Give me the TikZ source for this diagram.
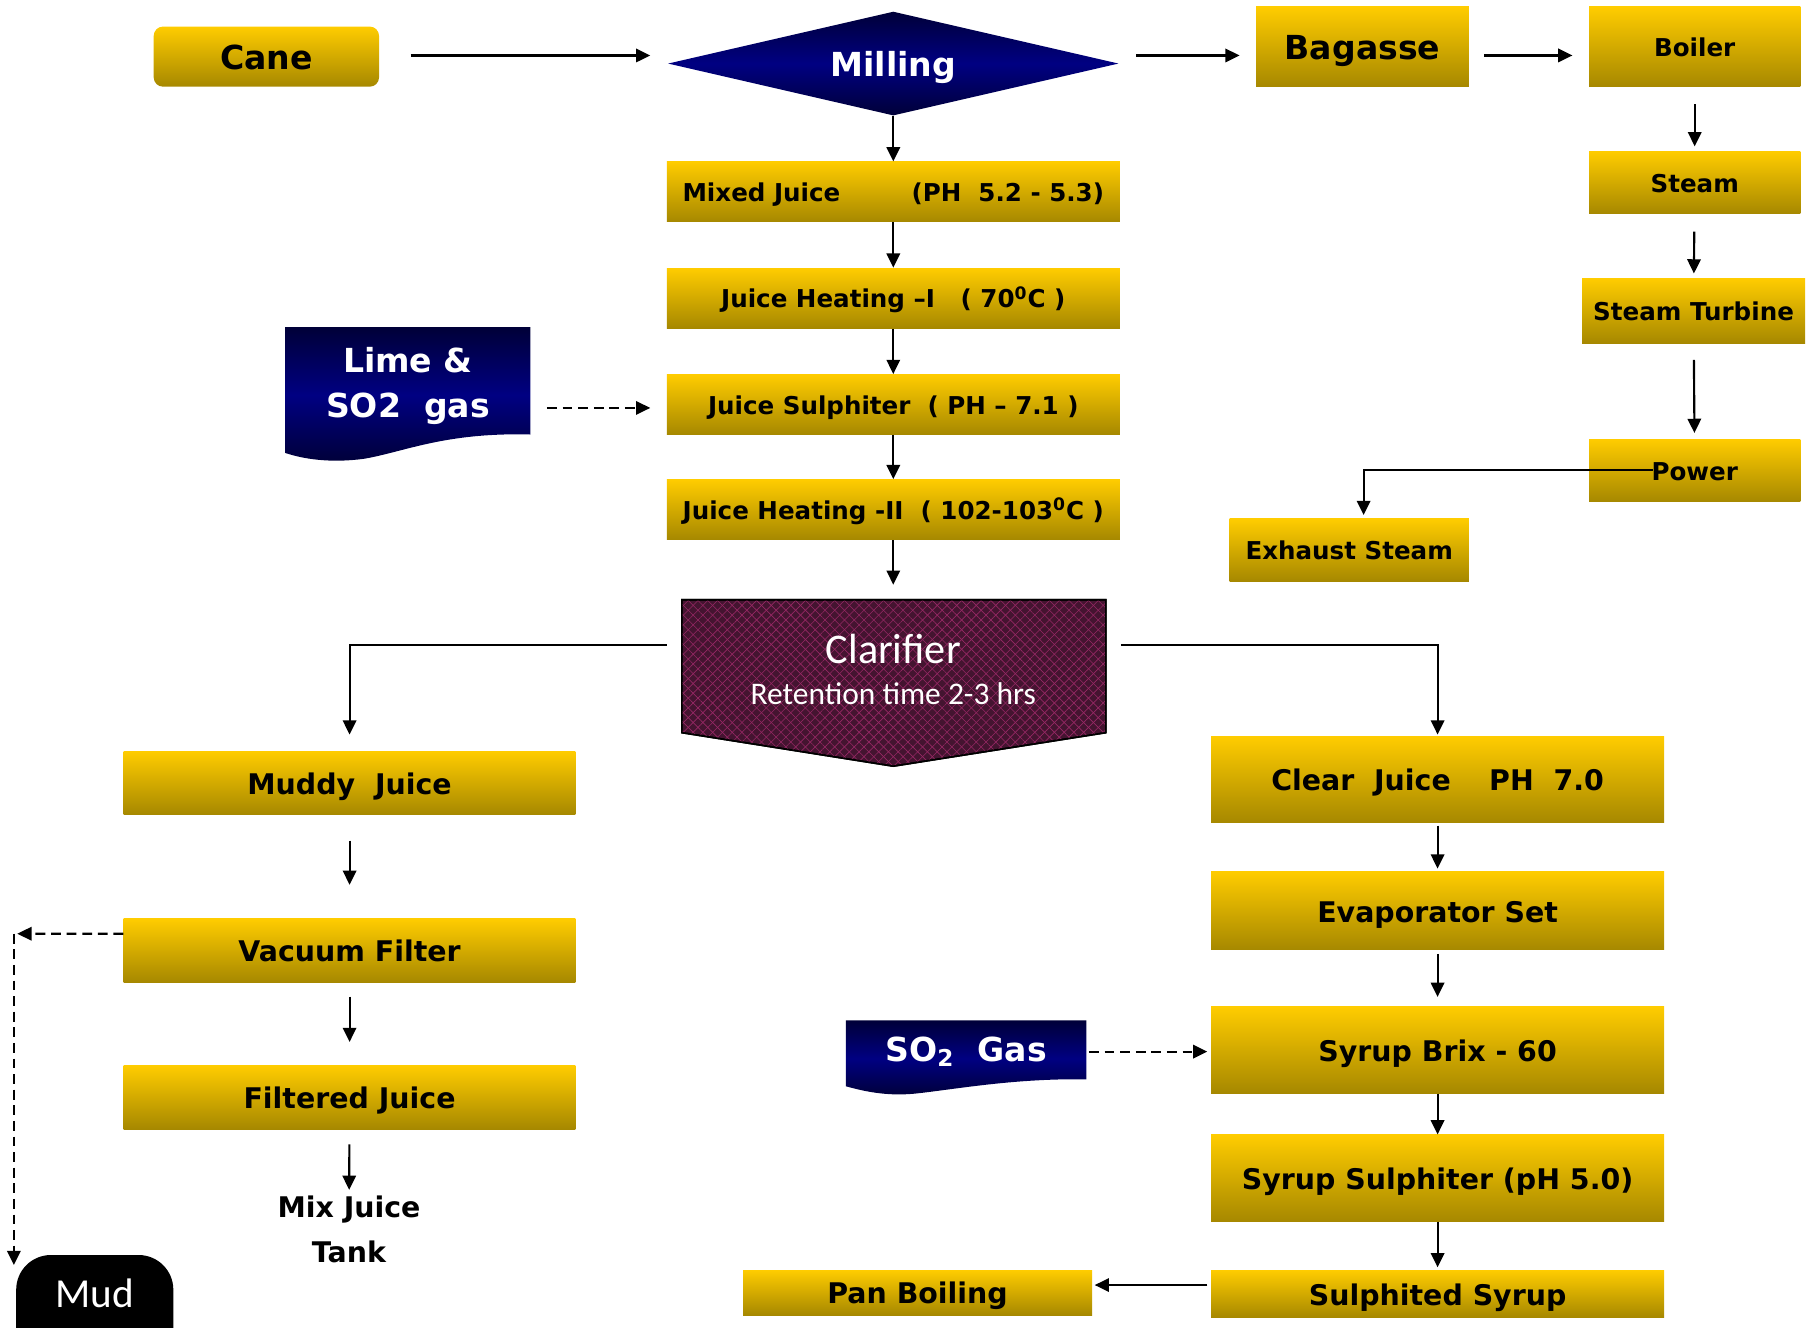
\documentclass[tikz,border=0pt]{standalone}
\usepackage{fontspec}
\setmainfont{DejaVu Sans}
\newfontfamily\calfont{Carlito}
\usetikzlibrary{arrows.meta,shapes.geometric,patterns.meta,calc}
\definecolor{goldtop}{RGB}{255,204,0}
\definecolor{goldbot}{RGB}{166,136,0}
\definecolor{navydark}{RGB}{0,0,56}
\definecolor{navymid}{RGB}{0,0,130}
\definecolor{clarfill}{RGB}{68,20,48}
\definecolor{clarline}{RGB}{150,40,100}
\begin{document}
\begin{tikzpicture}[x=0.02cm,y=-0.02cm,
  ybox/.style={rectangle, top color=goldtop, bottom color=goldbot, draw=none, inner sep=0pt},
  navyshade/.style={top color=navydark, bottom color=navydark, middle color=navymid},
  arr/.style={-{Triangle[length=7pt,width=6.6pt]}, line width=1.05pt},
  dsh/.style={arr, dash pattern=on 0.17cm off 0.1cm},
  fbig/.style={font=\bfseries\fontsize{16.3}{22.2}\selectfont},
  fmid/.style={font=\bfseries\fontsize{14}{22.2}\selectfont},
  fsmall/.style={font=\bfseries\fontsize{12.1}{15}\selectfont},
  tbig/.style={fbig, text height=13pt, text depth=0pt},
  tmid/.style={fmid, text height=11.2pt, text depth=0pt},
  tsmall/.style={fsmall, text height=9.7pt, text depth=0pt},
]
\useasboundingbox (0,0) rectangle (1568,1149);

% ---------- top row ----------
\node[ybox, rounded corners=0.16cm, minimum width=3.9cm, minimum height=1.04cm, tbig] (cane) at (230.5,49) {Cane};
\node[diamond, shape aspect=4.33, navyshade, minimum width=7.8cm, minimum height=1.8cm, inner sep=0pt, text=white, tbig] (milling) at (773,55) {Milling};
\node[ybox, minimum width=3.68cm, minimum height=1.38cm, tbig] (bagasse) at (1179,40.5) {Bagasse};
\node[ybox, minimum width=3.66cm, minimum height=1.38cm, tsmall] (boiler) at (1466.5,40.5) {Boiler};
\node[ybox, minimum width=3.66cm, minimum height=1.08cm, tsmall] (steam) at (1466.5,158) {Steam};
\node[ybox, minimum width=3.86cm, minimum height=1.12cm, tsmall] (turbine) at (1465.5,269) {Steam Turbine};
\node[ybox, minimum width=3.66cm, minimum height=1.08cm, tsmall] (power) at (1466.5,407) {Power};
\node[ybox, minimum width=4.14cm, minimum height=1.08cm, tsmall] (exhaust) at (1167.5,476) {Exhaust Steam};

% ---------- middle column ----------
\node[ybox, minimum width=7.84cm, minimum height=1.04cm, tsmall] (mixed) at (773,166) {Mixed Juice\hspace{2.9em}(PH~~5.2 - 5.3)};
\node[ybox, minimum width=7.84cm, minimum height=1.04cm, tsmall] (jh1) at (773,258) {Juice Heating –I~~~( 70\textsuperscript{0}C )};
\node[ybox, minimum width=7.84cm, minimum height=1.04cm, tsmall] (js) at (773,350) {Juice Sulphiter~~( PH – 7.1 )};
\node[ybox, minimum width=7.84cm, minimum height=1.04cm, tsmall] (jh2) at (773,441) {Juice Heating -II~~( 102-103\textsuperscript{0}C )};

% Lime & SO2 gas
\shade[navyshade] (247,283) -- (459,283) -- (459,376) .. controls (385,374) and (350,391) .. (315,397) .. controls (285,401) and (262,397) .. (247,392) -- cycle;
\node[minimum width=4.24cm, minimum height=1.84cm, inner sep=0pt, text=white, align=center, fbig] (lime) at (353,334) {Lime \&\\SO2~~gas};

% Clarifier
\draw[line width=0.8pt, fill=clarfill,
  postaction={pattern={Lines[angle=45,distance=3.4pt,line width=0.3pt]}, pattern color=clarline},
  postaction={pattern={Lines[angle=-45,distance=3.4pt,line width=0.3pt]}, pattern color=clarline},
  postaction={draw, line width=0.8pt}]
  (590,519) -- (957,519) -- (957,634) -- (773,663) -- (590,634) -- cycle;
\node[text=white, font=\calfont\fontsize{20.8}{25}\selectfont] (clar) at (773,562) {Clarifier};
\node[text=white, font=\calfont\fontsize{15.5}{19}\selectfont] (clarsub) at (773,600) {Retention time 2-3 hrs};
\coordinate (clartop) at (773,519);
\coordinate (clarL) at (577,558);
\coordinate (clarR) at (970,558);

% ---------- left column ----------
\node[ybox, minimum width=7.82cm, minimum height=1.1cm, tmid] (muddy) at (302.5,677.5) {Muddy~~Juice};
\node[ybox, minimum width=7.82cm, minimum height=1.1cm, tmid] (vacuum) at (302.5,822.5) {Vacuum Filter};
\node[ybox, minimum width=7.82cm, minimum height=1.1cm, tmid] (filtered) at (302.5,949.5) {Filtered Juice};
\node[align=center, inner sep=0pt, fmid] (mixtank) at (302,1064) {Mix Juice\\Tank};
\node[fill=black, rounded corners=0.6cm, minimum width=2.72cm, minimum height=1.9cm, inner sep=0pt] (mud) at (82,1133.5) {};
\node[text=white, font=\calfont\fontsize{20.3}{24}\selectfont] (mudtext) at (82,1119) {Mud};
\coordinate (mudcorner) at (12,808);

% ---------- right column ----------
\node[ybox, minimum width=7.84cm, minimum height=1.5cm, tmid] (clear) at (1244,674.5) {Clear~~Juice\hspace{1.35em}PH~~7.0};
\node[ybox, minimum width=7.84cm, minimum height=1.36cm, tmid] (evap) at (1244,788) {Evaporator Set};
\node[ybox, minimum width=7.84cm, minimum height=1.5cm, tmid] (brix) at (1244,908.5) {Syrup Brix - 60};
\node[ybox, minimum width=7.84cm, minimum height=1.5cm, tmid] (sulph) at (1244,1019.5) {Syrup Sulphiter (pH 5.0)};
\node[ybox, minimum width=7.84cm, minimum height=0.82cm, tmid] (sulphited) at (1244,1119.5) {Sulphited Syrup};
\node[ybox, minimum width=6.04cm, minimum height=0.78cm, tmid] (pan) at (794,1118.5) {Pan Boiling};

% SO2 Gas
\shade[navyshade] (732,883) -- (940,883) -- (940,934) .. controls (880,933) and (830,942) .. (795,946) .. controls (770,949) and (750,945) .. (732,940) -- cycle;
\node[minimum width=4.16cm, minimum height=1.02cm, inner sep=0pt, text=white, fbig] (so2) at (836,910) {SO\textsubscript{2}~~Gas};

% ---------- connectors ----------
\draw[arr, shorten <=0.54cm, shorten >=0.3cm] ([yshift=0.02cm]cane.east) -- ([yshift=0.02cm]cane.east -| milling.west);
\draw[arr, shorten <=0.3cm, shorten >=0.28cm] ([yshift=0.14cm]milling.east) -- ([yshift=0.14cm]milling.east -| bagasse.west);
\draw[arr, shorten <=0.26cm, shorten >=0.28cm] ([yshift=-0.15cm]bagasse.east) -- ([yshift=-0.15cm]boiler.west);
\draw[arr, shorten <=0.3cm, shorten >=0.08cm] (boiler) -- (steam);
\draw[arr, shorten <=0.3cm, shorten >=0.08cm] (steam) -- (turbine);
\draw[arr, shorten <=0.28cm, shorten >=0.1cm] (turbine) -- (power);
\draw[arr, shorten >=0.06cm] ([xshift=-0.73cm]power.center) -| ([xshift=0.25cm]exhaust.north);

\draw[arr] (milling) -- (mixed);
\draw[arr] (mixed) -- (jh1);
\draw[arr] (jh1) -- (js);
\draw[arr] (js) -- (jh2);
\draw[arr, shorten >=0.26cm] (jh2) -- (clartop);
\draw[dsh, shorten <=0.28cm, shorten >=0.28cm] ([yshift=-0.38cm]lime.east) -- ([yshift=-0.38cm]lime.east -| js.west);

\draw[arr, shorten >=0.28cm] (clarL) -| (muddy.north);
\draw[arr, shorten >=0.02cm] (clarR) -| (clear.north);

\draw[arr, shorten <=0.44cm, shorten >=0.58cm] (muddy) -- (vacuum);
\draw[arr, shorten <=0.24cm, shorten >=0.4cm] (vacuum) -- (filtered);
\draw[arr, shorten <=0.26cm, shorten >=0.1cm] (filtered) -- (mixtank);
\draw[dsh, shorten >=0.06cm] ([yshift=0.29cm]vacuum.west) -- (mudcorner);
\draw[dsh] (mudcorner) -- ([yshift=-0.18cm]mudcorner |- mud.north);

\draw[arr, shorten <=0.04cm, shorten >=0.04cm] (clear) -- (evap);
\draw[arr, shorten <=0.06cm, shorten >=0.16cm] (evap) -- (brix);
\draw[arr] (brix) -- (sulph);
\draw[arr, shorten >=0.04cm] (sulph) -- (sulphited);
\draw[arr, shorten <=0.06cm, shorten >=0.04cm] ([yshift=0.15cm]sulphited.west) -- ([yshift=0.15cm]sulphited.west -| pan.east);
\draw[dsh, shorten <=0.04cm, shorten >=0.06cm] (so2.east) -- (so2.east -| brix.west);
\end{tikzpicture}
\end{document}
